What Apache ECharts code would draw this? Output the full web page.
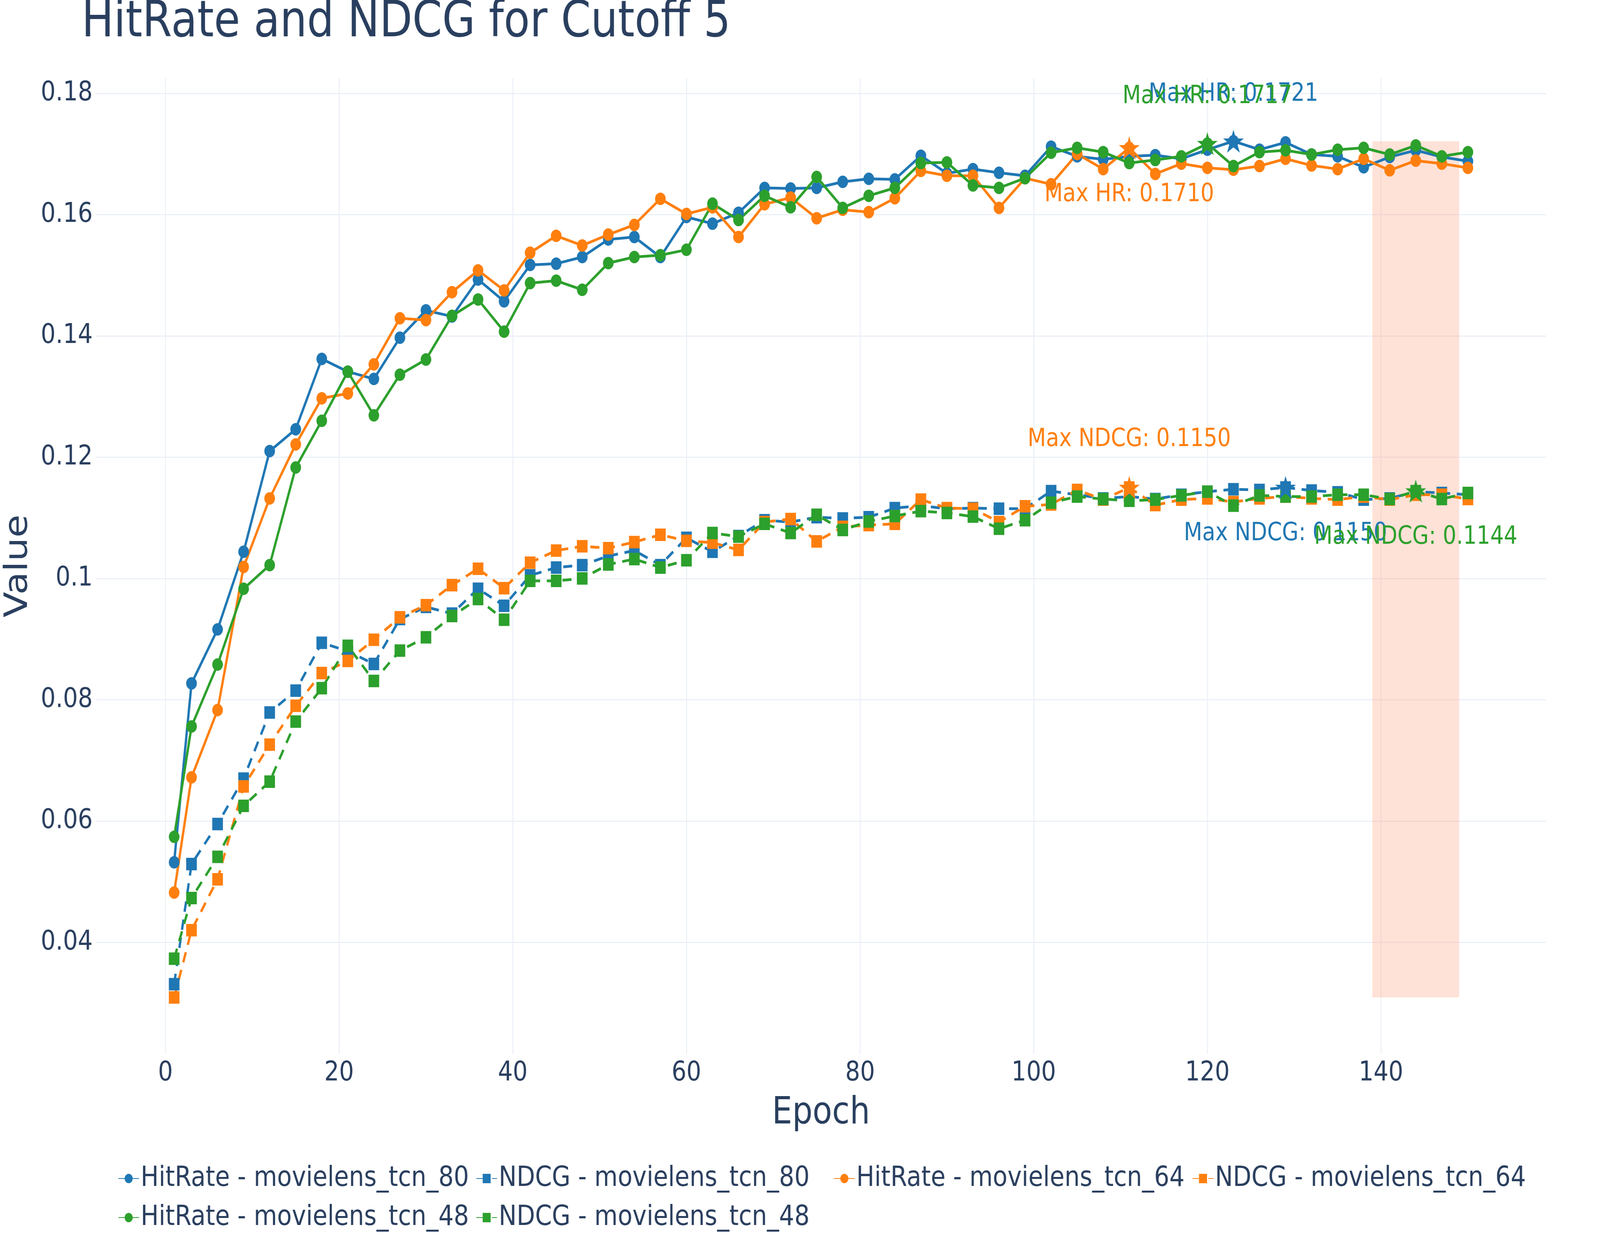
<!DOCTYPE html>
<html>
<head>
<meta charset="utf-8">
<script src="https://cdn.jsdelivr.net/npm/echarts@6/dist/echarts.min.js"></script>
<style>
    html, body { margin: 0; padding: 0; background: #fff; overflow: hidden; }
    #chart { width: 4800px; height: 3200px; transform-origin: 0 0; }
</style>
</head>
<body>
<div id="chart"></div>
<script>
    // epochs where metrics were logged
    var epochs = [1, 3, 6, 9, 12, 15, 18, 21, 24, 27, 30, 33, 36, 39, 42, 45, 48, 51, 54, 57,
        60, 63, 66, 69, 72, 75, 78, 81, 84, 87, 90, 93, 96, 99, 102, 105, 108, 111, 114, 117,
        120, 123, 126, 129, 132, 135, 138, 141, 144, 147, 150];

    // movielens_tcn_80
    var hr_80 = [0.0532, 0.0827, 0.0916, 0.1044, 0.1210, 0.1246, 0.1362, 0.1341, 0.1329, 0.1397,
        0.1442, 0.1432, 0.1493, 0.1457, 0.1517, 0.1519, 0.1530, 0.1559, 0.1563, 0.1530,
        0.1596, 0.1585, 0.1603, 0.1644, 0.1643, 0.1644, 0.1654, 0.1659, 0.1658, 0.1697,
        0.1668, 0.1675, 0.1669, 0.1664, 0.1712, 0.1696, 0.1691, 0.1696, 0.1698, 0.1692,
        0.1707, 0.1721, 0.1707, 0.1719, 0.1699, 0.1696, 0.1678, 0.1695, 0.1706, 0.1695, 0.1688];
    var ndcg_80 = [0.0331, 0.0529, 0.0595, 0.0670, 0.0779, 0.0815, 0.0894, 0.0880, 0.0859, 0.0933,
        0.0953, 0.0942, 0.0983, 0.0955, 0.1005, 0.1018, 0.1022, 0.1037, 0.1046, 0.1022,
        0.1067, 0.1044, 0.1070, 0.1096, 0.1093, 0.1101, 0.1099, 0.1101, 0.1116, 0.1120,
        0.1115, 0.1116, 0.1115, 0.1115, 0.1144, 0.1138, 0.1132, 0.1135, 0.1131, 0.1138,
        0.1143, 0.1147, 0.1146, 0.1150, 0.1145, 0.1142, 0.1130, 0.1132, 0.1143, 0.1141, 0.1138];

    // movielens_tcn_64
    var hr_64 = [0.0482, 0.0672, 0.0783, 0.1019, 0.1132, 0.1221, 0.1297, 0.1305, 0.1353, 0.1429,
        0.1426, 0.1472, 0.1508, 0.1475, 0.1537, 0.1565, 0.1549, 0.1567, 0.1583, 0.1626,
        0.1601, 0.1612, 0.1563, 0.1617, 0.1628, 0.1594, 0.1608, 0.1604, 0.1627, 0.1672,
        0.1664, 0.1664, 0.1611, 0.1660, 0.1650, 0.1700, 0.1675, 0.1710, 0.1667, 0.1684,
        0.1677, 0.1674, 0.1680, 0.1692, 0.1681, 0.1675, 0.1692, 0.1673, 0.1689, 0.1684, 0.1677];
    var ndcg_64 = [0.0309, 0.0420, 0.0504, 0.0657, 0.0726, 0.0790, 0.0844, 0.0864, 0.0899, 0.0936,
        0.0956, 0.0989, 0.1016, 0.0984, 0.1026, 0.1046, 0.1053, 0.1050, 0.1060, 0.1072,
        0.1062, 0.1059, 0.1047, 0.1093, 0.1098, 0.1061, 0.1085, 0.1088, 0.1090, 0.1130,
        0.1116, 0.1115, 0.1093, 0.1119, 0.1122, 0.1146, 0.1130, 0.1150, 0.1121, 0.1130,
        0.1132, 0.1126, 0.1132, 0.1135, 0.1132, 0.1130, 0.1135, 0.1130, 0.1138, 0.1138, 0.1131];

    // movielens_tcn_48
    var hr_48 = [0.0574, 0.0756, 0.0858, 0.0983, 0.1022, 0.1183, 0.1260, 0.1341, 0.1269, 0.1336,
        0.1361, 0.1433, 0.1460, 0.1407, 0.1487, 0.1491, 0.1476, 0.1520, 0.1530, 0.1533,
        0.1542, 0.1618, 0.1591, 0.1631, 0.1612, 0.1662, 0.1611, 0.1631, 0.1644, 0.1685,
        0.1686, 0.1648, 0.1644, 0.1660, 0.1702, 0.1710, 0.1703, 0.1685, 0.1690, 0.1696,
        0.1717, 0.1680, 0.1703, 0.1706, 0.1699, 0.1707, 0.1710, 0.1699, 0.1714, 0.1696, 0.1703];
    var ndcg_48 = [0.0373, 0.0473, 0.0541, 0.0625, 0.0665, 0.0764, 0.0819, 0.0889, 0.0831, 0.0881,
        0.0903, 0.0938, 0.0966, 0.0932, 0.0996, 0.0996, 0.1000, 0.1023, 0.1032, 0.1018,
        0.1030, 0.1075, 0.1069, 0.1090, 0.1075, 0.1105, 0.1080, 0.1094, 0.1103, 0.1111,
        0.1108, 0.1102, 0.1082, 0.1096, 0.1125, 0.1135, 0.1131, 0.1128, 0.1130, 0.1137,
        0.1143, 0.1120, 0.1137, 0.1135, 0.1135, 0.1138, 0.1138, 0.1131, 0.1144, 0.1131, 0.1141];

    // shaded epoch window
    var highlight_epochs = [139, 149];

    var font = 'DejaVu Sans';
    var textColor = '#2a3f5f';
    var gridColor = '#ebf0f8';
    var star = 'path://M50,0 L61.2,34.5 L97.6,34.5 L68.2,55.9 L79.4,90.5 L50,69.1 L20.6,90.5 L31.8,55.9 L2.4,34.5 L38.8,34.5 Z';

    function pairs(vals) {
        return epochs.map((e, i) => [e, vals[i]]);
    }

    var allVals = [].concat(hr_80, ndcg_80, hr_64, ndcg_64, hr_48, ndcg_48);
    var minVal = Math.min.apply(null, allVals);
    var maxVal = Math.max.apply(null, allVals);

    function makeSeries(name, vals, color, isNdcg, labelDy) {
        var prefix = isNdcg ? 'Max NDCG: ' : 'Max HR: ';
        return {
            name: name,
            type: 'line',
            data: pairs(vals),
            symbol: isNdcg ? 'rect' : 'circle',
            symbolSize: 32,
            showSymbol: true,
            itemStyle: { color: color },
            lineStyle: { color: color, width: 7, type: isNdcg ? [27, 20] : 'solid' },
            emphasis: { disabled: true },
            markPoint: {
                silent: true,
                symbol: star,
                symbolSize: 62,
                symbolKeepAspect: true,
                itemStyle: { color: color },
                label: {
                    show: true,
                    position: 'inside',
                    offset: [0, labelDy],
                    color: color,
                    fontSize: 64,
                    fontFamily: font,
                    formatter: function (p) { return prefix + p.value.toFixed(4); }
                },
                data: [{ type: 'max', valueDim: 'y' }]
            }
        };
    }

    var series = [
        makeSeries('HitRate - movielens_tcn_80', hr_80, '#1f77b4', false, -120),
        makeSeries('NDCG - movielens_tcn_80', ndcg_80, '#1f77b4', true, 118),
        makeSeries('HitRate - movielens_tcn_64', hr_64, '#ff7f0e', false, 120),
        makeSeries('NDCG - movielens_tcn_64', ndcg_64, '#ff7f0e', true, -123),
        makeSeries('HitRate - movielens_tcn_48', hr_48, '#2ca02c', false, -120),
        makeSeries('NDCG - movielens_tcn_48', ndcg_48, '#2ca02c', true, 118)
    ];

    // salmon window from lowest to highest value
    series[0].markArea = {
        silent: true,
        itemStyle: { color: 'rgba(255,160,122,0.3)' },
        data: [[{ xAxis: highlight_epochs[0], yAxis: minVal }, { xAxis: highlight_epochs[1], yAxis: maxVal }]]
    };

    // one legend per item so the columns line up like the original
    var legendPos = [[349, 2976], [1423, 2976], [2496, 2976], [3572, 2976], [349, 3076], [1423, 3076]];
    var legends = series.map((s, i) => ({
        data: [s.name],
        left: legendPos[i][0],
        top: legendPos[i][1],
        itemWidth: 62,
        itemHeight: 30,
        itemGap: 0,
        selectedMode: false,
        textStyle: { fontSize: 72, color: textColor, fontFamily: font }
    }));

    var option = {
        animation: false,
        backgroundColor: '#ffffff',
        title: {
            text: 'HitRate and NDCG for Cutoff 5',
            left: 240,
            top: -9,
            textStyle: { fontSize: 128, fontWeight: 'normal', color: textColor, fontFamily: font }
        },
        legend: legends,
        grid: { left: 286, right: 162, top: 200, bottom: 502, containLabel: false },
        xAxis: {
            type: 'value',
            min: -8,
            max: 159,
            splitNumber: 8,
            name: 'Epoch',
            nameLocation: 'middle',
            nameGap: 105,
            nameTextStyle: { fontSize: 96, color: textColor, fontFamily: font, verticalAlign: 'top' },
            axisLine: { show: false },
            axisTick: { show: false },
            axisLabel: { fontSize: 70, color: textColor, fontFamily: font, margin: 15, showMinLabel: false, showMaxLabel: false },
            splitLine: { show: true, showMinLine: false, showMaxLine: false, lineStyle: { color: gridColor, width: 3 } }
        },
        yAxis: {
            type: 'value',
            min: 0.0216,
            max: 0.1825,
            splitNumber: 8,
            name: 'Value',
            nameLocation: 'middle',
            nameGap: 184,
            nameTextStyle: { fontSize: 96, color: textColor, fontFamily: font },
            axisLine: { show: false },
            axisTick: { show: false },
            axisLabel: { fontSize: 70, color: textColor, fontFamily: font, margin: 10, showMinLabel: false, showMaxLabel: false },
            splitLine: { show: true, showMinLine: false, showMaxLine: false, lineStyle: { color: gridColor, width: 3 } }
        },
        series: series
    };

    // the figure is laid out on a 4800x3200 sheet; fit it to the window we actually get
    var box = document.getElementById('chart');
    var sx = Math.min(1, window.innerWidth / 4800);
    var sy = Math.min(1, window.innerHeight / 3200);
    if (sx < 1 || sy < 1) {
        box.style.transform = 'scale(' + sx + ',' + sy + ')';
    }

    var chart = echarts.init(box, null, { renderer: 'canvas' });
    chart.setOption(option);
</script>
</body>
</html>
